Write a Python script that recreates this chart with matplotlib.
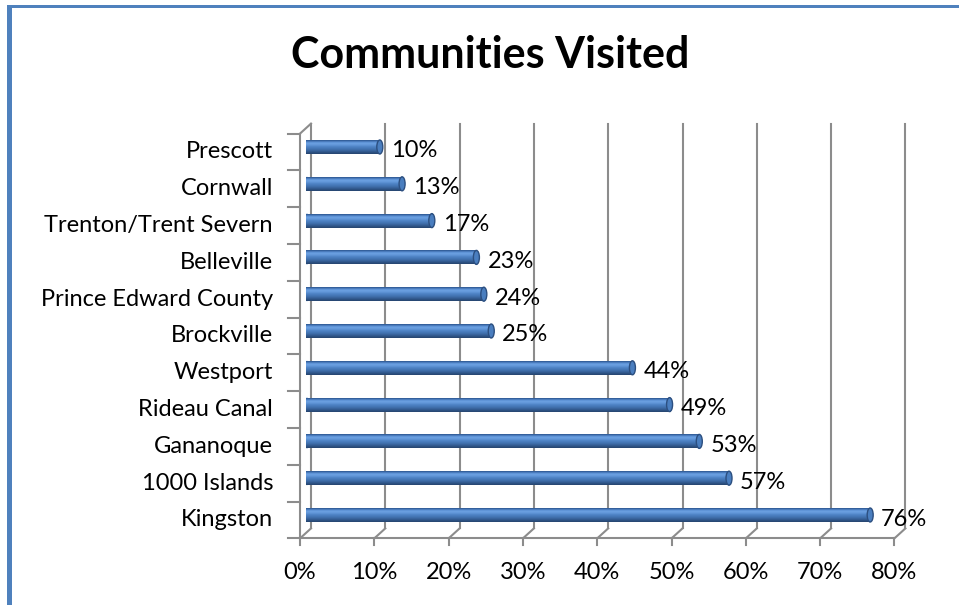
import numpy as np
import matplotlib.pyplot as plt
from matplotlib.patches import Ellipse, Rectangle
from matplotlib.colors import to_rgb

plt.rcParams['font.family'] = ['Lato', 'DejaVu Sans']

# survey results, bottom to top
communities = ['Kingston', '1000 Islands', 'Gananoque', 'Rideau Canal', 'Westport',
               'Brockville', 'Prince Edward County', 'Belleville',
               'Trenton/Trent Severn', 'Cornwall', 'Prescott']
visited = [76, 57, 53, 49, 44, 25, 24, 23, 17, 13, 10]
x_ticks = [0, 10, 20, 30, 40, 50, 60, 70, 80]

W, H = 959, 605
fig = plt.figure(figsize=(W / 100, H / 100), dpi=100)
fig.patch.set_facecolor('white')

# blue frame along top and left edge
fig.add_artist(Rectangle((8 / W, 1 - 8 / H), 1, 3 / H, transform=fig.transFigure,
                         facecolor='#4f81bd', edgecolor='none'))
fig.add_artist(Rectangle((7 / W, 0), 5 / W, 1 - 5 / H, transform=fig.transFigure,
                         facecolor='#4f81bd', edgecolor='none'))

ax_w, ax_h = 594.4, 404.8
ax = fig.add_axes([305.5 / W, 1 - 533.4 / H, ax_w / W, ax_h / H])
ax.axis('off')

# depth offset of the front and back planes (in data units)
px_x = 80 / ax_w
px_y = 11 / ax_h
ddx = 5.5 * px_x
ddy = 5.0 * px_y

grid_c = '#8c8c8c'
lw = 1.5
y0, y1 = -0.5, 10.5
fs = 17

# back wall gridlines
for t in x_ticks:
    ax.plot([t + ddx, t + ddx], [y0 + ddy, y1 + ddy], color=grid_c, lw=lw,
            clip_on=False, zorder=1)
    # floor diagonals and ticks
    ax.plot([t - ddx, t + ddx], [y0 - ddy, y0 + ddy], color=grid_c, lw=lw,
            clip_on=False, zorder=1)
    ax.plot([t - ddx, t - ddx], [y0 - ddy, y0 - ddy - 7 * px_y], color=grid_c, lw=lw,
            clip_on=False, zorder=1)
    ax.text(t - ddx, y0 - ddy - 34 * px_y, '%d%%' % t, ha='center', va='center',
            fontsize=fs)

# front floor edge and left wall
ax.plot([-ddx, 80 - ddx], [y0 - ddy, y0 - ddy], color=grid_c, lw=lw, clip_on=False)
ax.plot([-ddx, -ddx], [y0 - ddy, y1 - ddy], color=grid_c, lw=lw, clip_on=False)
ax.plot([-ddx, ddx], [y1 - ddy, y1 + ddy], color=grid_c, lw=lw, clip_on=False)
for k in range(12):
    yb = -0.5 + k - ddy
    ax.plot([-ddx - 12 * px_x, -ddx], [yb, yb], color=grid_c, lw=lw, clip_on=False)

# cylinder-like shading for the bars
shade = ['#34609c', '#5b90d4', '#6a9fe0', '#6297da', '#5287c9', '#497cbd',
         '#4272b0', '#3a659e', '#30578a', '#284874']
shade = np.array([to_rgb(c) for c in shade])[:, None, :]
bar_h = 0.38

for i, (name, v) in enumerate(zip(communities, visited)):
    ax.imshow(shade, extent=(0, v, i - bar_h / 2, i + bar_h / 2), aspect='auto',
              interpolation='bilinear', zorder=3)
    ax.add_patch(Ellipse((v, i), 6 * px_x, bar_h, facecolor='#4a7ebf',
                         edgecolor='#2c4f80', lw=1.0, zorder=4))
    ax.add_patch(Ellipse((0.2, i), 5 * px_x, bar_h, facecolor='#4677b8',
                         edgecolor='none', zorder=2))
    ax.text(v + 11 * px_x, i - 4 * px_y, '%d%%' % v, ha='left', va='center',
            fontsize=fs, zorder=5)
    ax.text(-ddx - 27 * px_x, i - ddy, name, ha='right', va='center', fontsize=fs)

ax.set_xlim(0, 80)
ax.set_ylim(-0.5, 10.5)

fig.text(490 / W, 1 - 55 / H, 'Communities Visited', ha='center', va='center',
         fontsize=31, fontweight='bold')

fig.savefig('out.png', dpi=100)
